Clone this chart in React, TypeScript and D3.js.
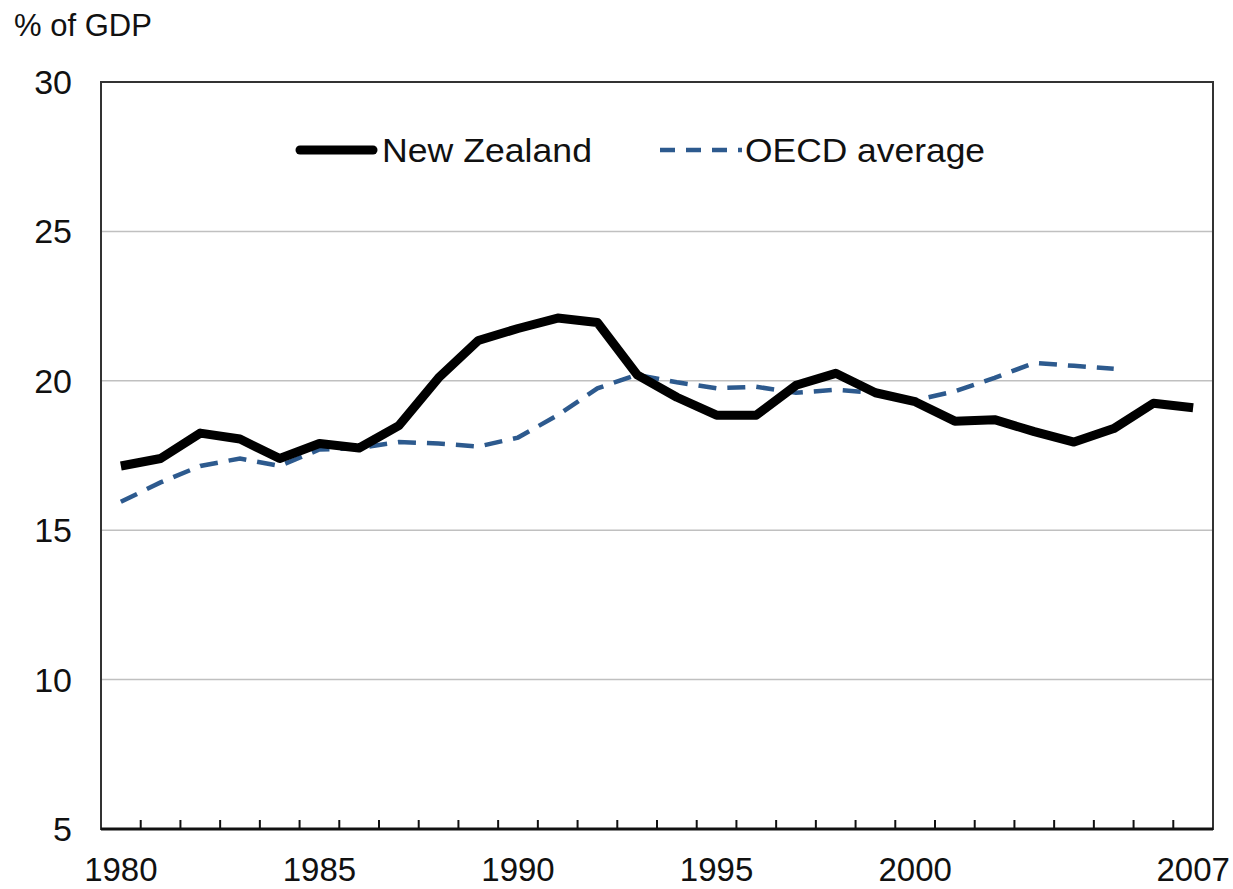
import React, { useEffect, useRef } from "react";
import * as d3 from "d3";

const years = d3.range(1980, 2008);
const nzValues = [
  17.15, 17.4, 18.25, 18.05, 17.4, 17.9, 17.75, 18.5, 20.1, 21.35,
  21.75, 22.1, 21.95, 20.2, 19.45, 18.85, 18.85, 19.85, 20.25, 19.6,
  19.3, 18.65, 18.7, 18.3, 17.95, 18.4, 19.25, 19.1,
];
const oecdValues = [
  15.95, 16.6, 17.15, 17.4, 17.15, 17.7, 17.75, 17.95, 17.9, 17.8,
  18.1, 18.85, 19.75, 20.2, 19.95, 19.75, 19.8, 19.6, 19.7, 19.6,
  19.35, 19.65, 20.1, 20.6, 20.5, 20.4,
];
const yTicks = [5, 10, 15, 20, 25, 30];
const xLabelYears = [1980, 1985, 1990, 1995, 2000, 2007];

const App = () => {
  const svgRef = useRef<SVGSVGElement>(null);

  useEffect(() => {
    const width = 1233;
    const height = 889;
    const plot = { left: 101, right: 1213, top: 82, bottom: 829 };
    const font = "'Liberation Sans', Arial, sans-serif";

    const svg = d3.select(svgRef.current);
    svg.selectAll("*").remove();
    svg.attr("width", width).attr("height", height);

    const x = d3.scalePoint<number>()
      .domain(years)
      .range([plot.left, plot.right])
      .padding(0.5);
    const step = x.step();

    const y = d3.scaleLinear().domain([5, 30]).range([plot.bottom, plot.top]);

    // gridlines
    svg.append("g")
      .selectAll("line")
      .data(yTicks.filter((t) => t > 5 && t < 30))
      .join("line")
      .attr("x1", plot.left)
      .attr("x2", plot.right)
      .attr("y1", (d) => y(d))
      .attr("y2", (d) => y(d))
      .attr("stroke", "#c0c0c0")
      .attr("stroke-width", 1.5);

    // frame
    svg.append("rect")
      .attr("x", plot.left)
      .attr("y", plot.top)
      .attr("width", plot.right - plot.left)
      .attr("height", plot.bottom - plot.top)
      .attr("fill", "none")
      .attr("stroke", "#333")
      .attr("stroke-width", 2);

    svg.append("line")
      .attr("x1", plot.left)
      .attr("x2", plot.right)
      .attr("y1", plot.bottom)
      .attr("y2", plot.bottom)
      .attr("stroke", "#111")
      .attr("stroke-width", 3);

    // x ticks between categories
    svg.append("g")
      .selectAll("line")
      .data(years.slice(0, -1))
      .join("line")
      .attr("x1", (d) => (x(d) as number) + step / 2)
      .attr("x2", (d) => (x(d) as number) + step / 2)
      .attr("y1", plot.bottom)
      .attr("y2", plot.bottom - 9)
      .attr("stroke", "#111")
      .attr("stroke-width", 2);

    // y labels
    svg.append("g")
      .selectAll("text")
      .data(yTicks)
      .join("text")
      .attr("x", 72)
      .attr("y", (d) => y(d))
      .attr("dy", "0.35em")
      .attr("text-anchor", "end")
      .attr("font-family", font)
      .attr("font-size", 34)
      .attr("fill", "#111")
      .text((d) => d);

    // x labels
    svg.append("g")
      .selectAll("text")
      .data(xLabelYears)
      .join("text")
      .attr("x", (d) => x(d) as number)
      .attr("y", 881)
      .attr("text-anchor", "middle")
      .attr("font-family", font)
      .attr("font-size", 33)
      .attr("fill", "#111")
      .text((d) => d);

    svg.append("text")
      .attr("x", 14)
      .attr("y", 36)
      .attr("font-family", font)
      .attr("font-size", 31)
      .attr("fill", "#111")
      .text("% of GDP");

    const line = d3.line<number>()
      .x((_, i) => x(years[i]) as number)
      .y((d) => y(d));

    svg.append("path")
      .datum(oecdValues)
      .attr("d", line)
      .attr("fill", "none")
      .attr("stroke", "#2d5a8e")
      .attr("stroke-width", 4.5)
      .attr("stroke-dasharray", "18,11");

    svg.append("path")
      .datum(nzValues)
      .attr("d", line)
      .attr("fill", "none")
      .attr("stroke", "#000")
      .attr("stroke-width", 9)
      .attr("stroke-linejoin", "round");

    // legend
    const legend = svg.append("g");
    legend.append("line")
      .attr("x1", 300).attr("x2", 373)
      .attr("y1", 150).attr("y2", 150)
      .attr("stroke", "#000")
      .attr("stroke-width", 9)
      .attr("stroke-linecap", "round");
    legend.append("text")
      .attr("x", 382).attr("y", 162)
      .attr("font-family", font)
      .attr("font-size", 34)
      .attr("textLength", 210)
      .attr("lengthAdjust", "spacingAndGlyphs")
      .attr("fill", "#111")
      .text("New Zealand");
    legend.append("line")
      .attr("x1", 660).attr("x2", 742)
      .attr("y1", 150).attr("y2", 150)
      .attr("stroke", "#2d5a8e")
      .attr("stroke-width", 4.5)
      .attr("stroke-dasharray", "15,11");
    legend.append("text")
      .attr("x", 745).attr("y", 162)
      .attr("font-family", font)
      .attr("font-size", 34)
      .attr("textLength", 240)
      .attr("lengthAdjust", "spacingAndGlyphs")
      .attr("fill", "#111")
      .text("OECD average");
  }, []);

  return (
    <svg
      ref={svgRef}
      style={{ position: "absolute", left: 0, top: 0, background: "#fff" }}
    ></svg>
  );
};

export default App;
